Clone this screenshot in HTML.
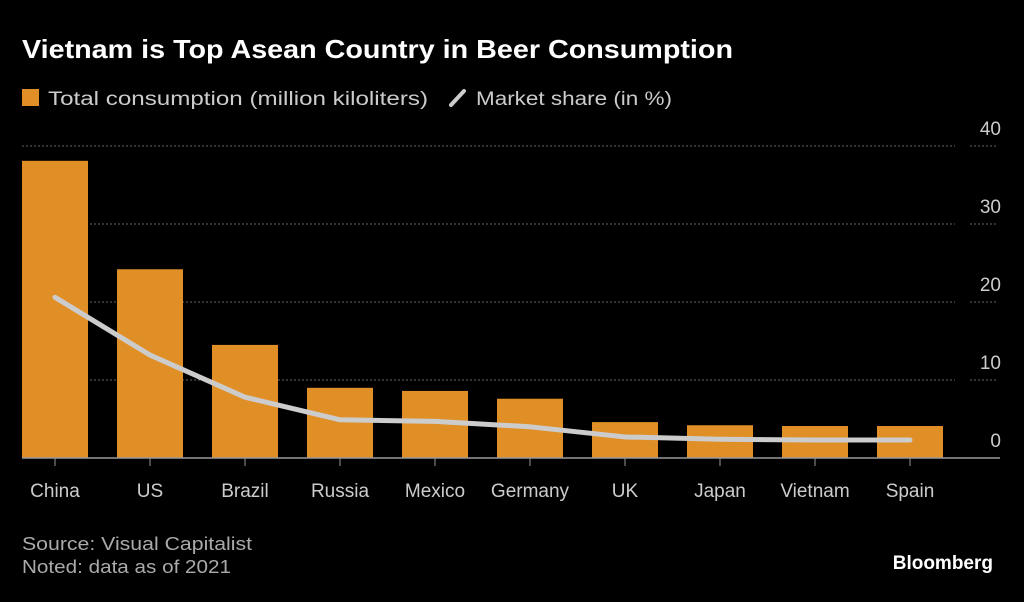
<!DOCTYPE html>
<html><head><meta charset="utf-8"><style>
body{margin:0;background:#000;width:1024px;height:597px;overflow:hidden;font-family:"Liberation Sans",sans-serif}
svg text{font-family:"Liberation Sans",sans-serif}
</style></head><body>
<svg id="chart" width="1024" height="597">
<text x="22" y="58" fill="#fff" font-size="26" font-weight="bold" textLength="711" lengthAdjust="spacingAndGlyphs">Vietnam is Top Asean Country in Beer Consumption</text>
<g>
<rect x="22" y="89" width="17" height="17" fill="#e08f27"/>
<text x="48" y="105" fill="#ccc" font-size="19" textLength="380" lengthAdjust="spacingAndGlyphs">Total consumption (million kiloliters)</text>
<line x1="451" y1="105" x2="464" y2="91" stroke="#ccc" stroke-width="4" stroke-linecap="round"/>
<text x="476" y="105" fill="#ccc" font-size="19" textLength="196" lengthAdjust="spacingAndGlyphs">Market share (in %)</text>
</g>
<g id="grid"></g><g id="bars"></g><g id="line"></g><g id="xaxis"></g>
<text x="22" y="550" fill="#aaa" font-size="18" textLength="230" lengthAdjust="spacingAndGlyphs">Source: Visual Capitalist</text>
<text x="22" y="573" fill="#aaa" font-size="18" textLength="209" lengthAdjust="spacingAndGlyphs">Noted: data as of 2021</text>
<text x="993" y="569" fill="#fff" font-size="19" font-weight="bold" text-anchor="end">Bloomberg</text>
</svg>
<script>
const categories=["China","US","Brazil","Russia","Mexico","Germany","UK","Japan","Vietnam","Spain"];
const consumption=[38.1,24.2,14.5,9.0,8.6,7.6,4.6,4.2,4.1,4.1];
const share=[20.6,13.2,7.8,4.9,4.7,4.0,2.7,2.4,2.3,2.3];
const ticks=[0,10,20,30,40];
const NS="http://www.w3.org/2000/svg";
const y=v=>458-v*7.8;
const x=i=>55+i*95;
function mk(t,a,p){const e=document.createElementNS(NS,t);for(const k in a)e.setAttribute(k,a[k]);document.getElementById(p).appendChild(e);return e;}
ticks.forEach(t=>{
 if(t>0){
  let g=mk("line",{x1:22,x2:955,y1:y(t),y2:y(t),stroke:"#666","stroke-dasharray":"2,2"},"grid");
  
  
  let g2=mk("line",{x1:970,x2:998,y1:y(t),y2:y(t),stroke:"#666","stroke-dasharray":"2,2"},"grid");
  
  
 }
 let l=mk("text",{x:1001,y:y(t)-11,fill:"#ccc","font-size":19,"text-anchor":"end"},"grid");
 l.textContent=t;
 
 
});
categories.forEach((c,i)=>{
 let b=mk("rect",{x:x(i)-33,y:y(consumption[i]),width:66,height:y(0)-y(consumption[i]),fill:"#e08f27"},"bars");
 
 
 let tk=mk("line",{x1:x(i),x2:x(i),y1:458,y2:466,stroke:"#999"},"xaxis");
 
 
 let t=mk("text",{x:x(i),y:497,fill:"#ccc","font-size":19,"text-anchor":"middle"},"xaxis");
 t.textContent=c;
 
 
});
let ax=mk("line",{x1:22,x2:1000,y1:458,y2:458,stroke:"#999","stroke-width":1.5},"xaxis");


let p=mk("polyline",{points:share.map((v,i)=>x(i)+","+y(v)).join(" "),fill:"none",stroke:"#ccc","stroke-width":5,"stroke-linecap":"round","stroke-linejoin":"round"},"line");


</script>
</body></html>
